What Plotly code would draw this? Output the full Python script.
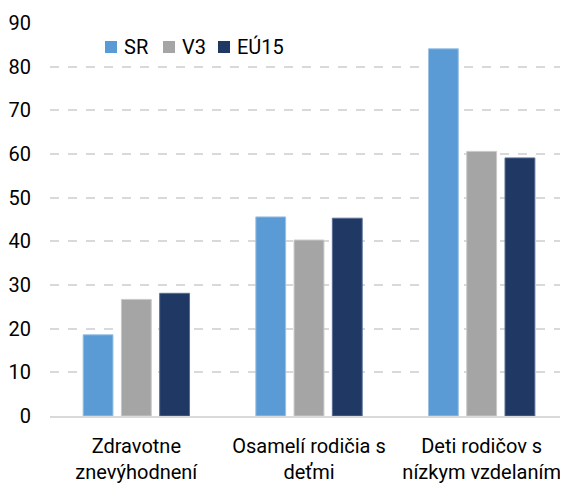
import plotly.graph_objects as go

categories = ["Zdravotne<br>znevýhodnení", "Osamelí rodičia s<br>deťmi", "Deti rodičov s<br>nízkym vzdelaním"]
series_names = ["SR", "V3", "EÚ15"]
sr = [18.6, 45.6, 84.1]
v3 = [26.7, 40.3, 60.6]
eu15 = [28.1, 45.3, 59.1]

colors = ["#5B9BD5", "#A5A5A5", "#203864"]
edges = ["#9DC3E6", "#C9C9C9", "#5A6E94"]
FONT = "Roboto, Liberation Sans, Arial"

# page is drawn with an 8px body margin, so the figure is 8px smaller
W, H = 560, 476
L, R, T, B = 42, 0, 15, 68
pw, ph = W - L - R, H - T - B

fig = go.Figure()
for name, vals, c, e in zip(series_names, [sr, v3, eu15], colors, edges):
    fig.add_trace(go.Bar(x=categories, y=vals, name=name, marker_color=c,
                         marker_line=dict(color=e, width=1), showlegend=False))

# hand-made legend: small squares with the label right next to them
leg_x = [97, 155, 210]   # left edge of each square, px from figure left
leg_y = 39               # centre line, px from figure top
for name, c, x in zip(series_names, colors, leg_x):
    yc = (H - B - leg_y) / ph
    fig.add_shape(type="rect", xref="paper", yref="paper",
                  x0=(x - L) / pw, x1=(x + 12 - L) / pw,
                  y0=yc - 6 / ph, y1=yc + 6 / ph,
                  fillcolor=c, line_width=0)
    fig.add_annotation(xref="paper", yref="paper", x=(x + 18 - L) / pw, y=yc,
                       xanchor="left", yanchor="middle", text=name, showarrow=False,
                       font=dict(size=20), xshift=-1)

fig.update_layout(
    width=W, height=H,
    margin=dict(l=L, r=R, t=T, b=B),
    paper_bgcolor="white", plot_bgcolor="white",
    font=dict(family=FONT, size=20, color="#000000"),
    barmode="group", bargap=0.335, bargroupgap=0.22,
)
fig.update_yaxes(range=[0, 90], dtick=10, showgrid=True, gridcolor="#D9D9D9",
                 griddash="dash", gridwidth=2, zeroline=False, showline=False,
                 ticks="", ticklabelstandoff=18, automargin=False)
fig.update_xaxes(showline=True, linecolor="#D9D9D9", linewidth=2, ticks="",
                 showgrid=False, ticklabelstandoff=11, automargin=False,
                 tickfont=dict(size=20))

fig.write_html("out.html")
